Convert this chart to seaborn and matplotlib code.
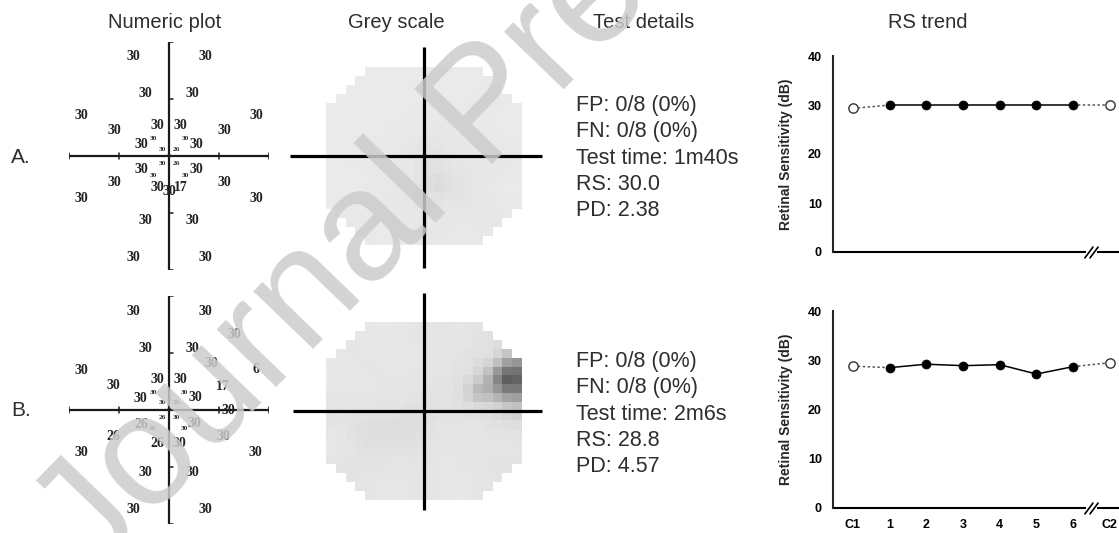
import numpy as np
import pandas as pd
import matplotlib
matplotlib.use("Agg")
import matplotlib.pyplot as plt
from matplotlib.colors import LinearSegmentedColormap
import seaborn as sns

# stimulus positions (degrees) and thresholds (dB) for exam A
a_x = [-7.2, 7.2, -4.7, 4.7, -17.5, 17.5, -11.0, 11.0, -2.3, 2.3, -5.5, 5.5,
       -3.2, 3.2, -1.4, 1.4, 0.0, -1.4, 1.4, -5.5, 5.5, -3.2, 3.2, -11.0, 11.0,
       -2.3, 0.0, 2.3, -17.5, 17.5, -4.7, 4.7, -7.2, 7.2]
a_y = [17.5, 17.5, 11.0, 11.0, 7.1, 7.1, 4.5, 4.5, 5.3, 5.3, 2.1, 2.1,
       3.1, 3.1, 1.2, 1.2, 0.0, -1.4, -1.4, -2.4, -2.4, -3.5, -3.5, -4.7, -4.7,
       -5.6, -6.2, -5.6, -7.4, -7.4, -11.3, -11.3, -17.8, -17.8]
a_db = [30, 30, 30, 30, 30, 30, 30, 30, 30, 30, 30, 30,
        30, 30, 30, 26, 26, 30, 26, 30, 30, 30, 30, 30, 30,
        30, 30, 17, 30, 30, 30, 30, 30, 30]

# exam B
b_x = [-7.2, 7.2, 13.1, -4.7, 4.7, 8.5, -17.5, 17.3, -11.2, 10.8, -2.3, 2.3,
       -5.7, 5.3, -3.2, 3.0, -1.4, 1.4, 0.0, 11.8, -1.4, 1.4, -5.5, 5.1,
       -3.4, 3.1, -11.2, 10.8, -2.3, 2.1, -17.5, 17.3, -4.7, 4.7, -7.2, 7.2]
b_y = [17.2, 17.2, 13.2, 10.8, 10.8, 8.2, 7.0, 7.1, 4.3, 4.2, 5.3, 5.3,
       2.1, 2.2, 3.1, 3.1, 1.3, 1.3, 0.0, 0.0, -1.3, -1.3, -2.5, -2.4,
       -3.2, -3.2, -4.7, -4.6, -5.8, -5.8, -7.4, -7.4, -11.0, -11.0, -17.5, -17.5]
b_db = [30, 30, 30, 30, 30, 30, 30, 6, 30, 17, 30, 30,
        30, 30, 30, 30, 30, 26, 22, 30, 26, 30, 26, 30,
        26, 30, 26, 30, 26, 30, 30, 30, 30, 30, 30, 30]

visits = ["C1", "1", "2", "3", "4", "5", "6", "C2"]
rs_a = [29.3, 30.0, 30.0, 30.0, 30.0, 30.0, 30.0, 30.0]
rs_b = [28.8, 28.5, 29.2, 28.9, 29.1, 27.2, 28.7, 29.5]

details_a = ["FP: 0/8 (0%)", "FN: 0/8 (0%)", "Test time: 1m40s", "RS: 30.0", "PD: 2.38"]
details_b = ["FP: 0/8 (0%)", "FN: 0/8 (0%)", "Test time: 2m6s", "RS: 28.8", "PD: 4.57"]

W, H = 1119, 533
SANS = "Liberation Sans"
TXT = "#2e2e2e"
VMIN, VMAX = 12.0, 31.6

# grey levels used by the device display, flat near normal sensitivity
grey_nodes = [(12, 0.25), (17, 0.31), (22, 0.55), (24, 0.67), (26, 0.81),
              (27.5, 0.87), (30, 0.925), (31.6, 0.95)]
grey_cmap = LinearSegmentedColormap.from_list(
    "rs_grey", [((v - VMIN) / (VMAX - VMIN), (g, g, g)) for v, g in grey_nodes])


def px_axes(fig, left, top, width, height):
    """Add axes using pixel box measured from the top-left corner"""
    return fig.add_axes([left / W, 1 - (top + height) / H, width / W, height / H])


def draw_numeric(ax, xs, ys, vals):
    """Numeric threshold map with a cross"""
    ax.set_xlim(-20, 20)
    ax.set_ylim(-20, 20)
    ax.axis("off")
    kw = dict(color="#1a1a1a", lw=1.6, solid_capstyle="butt")
    ax.plot([-20, 20], [0, 0], **kw)
    ax.plot([0, 0], [-20, 20], **kw)
    for t in (-20, -10, 10, 20):
        ax.plot([t, t], [-0.6, 0.6], color="#1a1a1a", lw=1.1)
        ax.plot([0, 0.7], [t, t], color="#1a1a1a", lw=1.1)
    for x, y, v in zip(xs, ys, vals):
        r = np.hypot(x, y)
        size = 3.8 if r < 0.5 else (5.3 if r < 5 else 10)
        ax.text(x, y, str(v), ha="center", va="center", fontsize=size,
                family="Liberation Serif", weight="bold", color="#222222")


def grey_grid(xs, ys, vals, cell=2.0, radius=22.0):
    """Smoothed inverse distance interpolation of thresholds on a square grid"""
    centres = np.arange(-20 + cell / 2, 20, cell)
    gx, gy = np.meshgrid(centres, centres[::-1])
    d2 = (gx[..., None] - np.asarray(xs)) ** 2 + (gy[..., None] - np.asarray(ys)) ** 2
    w = 1.0 / (d2 + 9.0)
    grid = (w * np.asarray(vals)).sum(-1) / w.sum(-1)
    mask = np.hypot(gx, gy) > radius
    return pd.DataFrame(grid), mask


def draw_grey(ax, xs, ys, vals, hline, vline):
    grid, mask = grey_grid(xs, ys, vals)
    sns.heatmap(grid, mask=mask, cmap=grey_cmap, vmin=VMIN, vmax=VMAX, cbar=False,
                xticklabels=False, yticklabels=False, linewidths=0, ax=ax)
    ax.set_xticks([])
    ax.set_yticks([])
    for s in ax.spines.values():
        s.set_visible(False)
    kw = dict(color="black", lw=2.3, transform=ax.transAxes, clip_on=False,
              solid_capstyle="butt")
    ax.plot(hline, [0.5, 0.5], **kw)
    ax.plot([0.5, 0.5], vline, **kw)


def draw_trend(ax, values, show_labels):
    idx = np.arange(len(visits))
    vals = np.asarray(values)
    sns.lineplot(x=idx[1:7], y=vals[1:7], color="black", lw=1.1, ax=ax)
    sns.lineplot(x=idx[:2], y=vals[:2], color="#555555", lw=1.1, ls=(0, (1.6, 1.6)), ax=ax)
    sns.lineplot(x=idx[6:], y=vals[6:], color="#555555", lw=1.1, ls=(0, (1.6, 1.6)), ax=ax)
    sns.scatterplot(x=idx[1:7], y=vals[1:7], color="black", edgecolor="black",
                    s=42, zorder=4, ax=ax)
    sns.scatterplot(x=idx[[0, 7]], y=vals[[0, 7]], color="white", edgecolor="#333333",
                    linewidth=1.0, s=45, zorder=4, ax=ax)
    ax.set_xlim(-0.545, 7.25)
    ax.set_ylim(0, 40)
    ax.set_yticks([0, 10, 20, 30, 40])
    ax.set_xticks(idx)
    ax.set_xticklabels(visits if show_labels else [])
    for side in ("top", "right", "bottom"):
        ax.spines[side].set_visible(False)
    ax.spines["left"].set_linewidth(1.5)
    ax.tick_params(length=5, width=1.3, pad=3, labelsize=9, colors="black")
    for lab in ax.get_xticklabels() + ax.get_yticklabels():
        lab.set_fontweight("bold")
        lab.set_family(SANS)
    ax.set_xlabel("")
    ax.set_ylabel("Retinal Sensitivity (dB)", fontsize=10, fontweight="bold", family=SANS)
    ax.yaxis.set_label_coords(-0.14, 0.5)
    # broken x axis
    kw = dict(color="black", lw=1.5, clip_on=False, solid_capstyle="butt")
    ax.plot([-0.545, 6.36], [0, 0], **kw)
    ax.plot([6.64, 7.25], [0, 0], **kw)
    ax.plot([6.32, 6.54], [-1.2, 1.0], color="black", lw=1.2, clip_on=False)
    ax.plot([6.46, 6.68], [-1.2, 1.0], color="black", lw=1.2, clip_on=False)


sns.set_style("white")
fig = plt.figure(figsize=(W / 100, H / 100), dpi=100)
fig.patch.set_facecolor("white")

draw_numeric(px_axes(fig, 69, 42, 200, 228), a_x, a_y, a_db)
draw_numeric(px_axes(fig, 69, 296, 200, 228), b_x, b_y, b_db)

draw_grey(px_axes(fig, 326, 67, 196, 178), a_x, a_y, a_db,
          [-0.184, 1.102], [-0.129, 1.112])
draw_grey(px_axes(fig, 326, 322, 196, 178), b_x, b_y, b_db,
          [-0.168, 1.102], [-0.056, 1.163])

draw_trend(px_axes(fig, 833, 56, 286, 196), rs_a, False)
draw_trend(px_axes(fig, 833, 311, 286, 197), rs_b, True)

# column headers
for label, cx in [("Numeric plot", 165), ("Grey scale", 396),
                  ("Test details", 644), ("RS trend", 928)]:
    fig.text(cx / W, 1 - 22 / H, label, ha="center", va="center",
             fontsize=14.5, family=SANS, color=TXT)

# row labels
fig.text(11 / W, 1 - 163 / H, "A.", ha="left", va="baseline", fontsize=15,
         family=SANS, color=TXT)
fig.text(11 / W, 1 - 416 / H, "B.", ha="left", va="baseline", fontsize=15,
         family=SANS, color=TXT)

# test details
for lines, base in [(details_a, 111), (details_b, 367)]:
    for i, line in enumerate(lines):
        fig.text(576 / W, 1 - (base + i * 26.3) / H, line, ha="left", va="baseline",
                 fontsize=15.5, family=SANS, color=TXT)

# journal watermark
fig.text(92 / W, 1 - 578 / H, "Journal Pre-proof", rotation=46, rotation_mode="anchor",
         ha="left", va="baseline", fontsize=114, family=SANS, color="#cccccc",
         alpha=0.85, zorder=100)

fig.savefig("out.png", dpi=100, facecolor="white")
